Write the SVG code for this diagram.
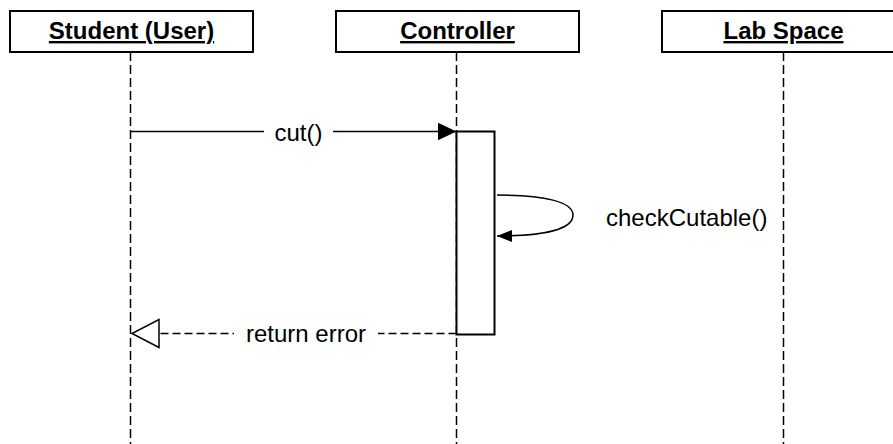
<svg xmlns="http://www.w3.org/2000/svg" width="893" height="444" viewBox="0 0 893 444">
<style>
.box{fill:#fff;stroke:#000;stroke-width:2}
.hdr{font-family:"Liberation Sans",Arial,sans-serif;font-size:24px;font-weight:bold;text-anchor:middle;text-decoration:underline;fill:#000}
.life{stroke:#000;stroke-width:1.5;stroke-dasharray:9,4;fill:none}
.msg{stroke:#000;stroke-width:1.5;fill:none}
.ret{stroke:#000;stroke-width:1.5;stroke-dasharray:8,4;fill:none}
.lbl{font-family:"Liberation Sans",Arial,sans-serif;font-size:24px;fill:#000}
.bg{fill:#fff}
</style>
<defs>
<marker id="filled" markerUnits="userSpaceOnUse" markerWidth="20" markerHeight="20" viewBox="0 0 20 20" refX="19" refY="10" orient="auto">
<path d="M0,1 L19,10 L0,19 Z" fill="#000"/>
</marker>
<marker id="filledSmall" markerUnits="userSpaceOnUse" markerWidth="16" markerHeight="14" viewBox="0 0 16 14" refX="15" refY="7" orient="auto">
<path d="M0,1 L15,7 L0,13 Z" fill="#000"/>
</marker>
<marker id="open" markerUnits="userSpaceOnUse" markerWidth="30" markerHeight="32" viewBox="0 0 30 32" refX="28" refY="16" orient="auto">
<path d="M1,2 L28,16 L1,30 Z" fill="#fff" stroke="#000" stroke-width="1.5"/>
</marker>
</defs>
<g id="lifelines">
<line class="life" x1="130.5" y1="52" x2="130.5" y2="444"/>
<line class="life" x1="456.5" y1="52" x2="456.5" y2="444"/>
<line class="life" x1="783.5" y1="52" x2="783.5" y2="444"/>
</g>
<g id="student">
<rect class="box" x="10" y="11" width="243" height="41"/>
<text class="hdr" x="131.5" y="39">Student (User)</text>
</g>
<g id="controller">
<rect class="box" x="336" y="11" width="243" height="41"/>
<text class="hdr" x="457.5" y="39">Controller</text>
</g>
<g id="labspace">
<rect class="box" x="662" y="11" width="243" height="41"/>
<text class="hdr" x="783.5" y="39">Lab Space</text>
</g>
<g id="activation">
<rect x="456.5" y="131.5" width="38" height="203" fill="#fff" stroke="#000" stroke-width="2"/>
</g>
<g id="connectors">
<line class="msg" x1="130.5" y1="131.5" x2="456.5" y2="131.5" marker-end="url(#filled)"/>
<rect class="bg" x="264" y="118" width="69" height="28"/>
<text class="lbl" x="298.5" y="141" text-anchor="middle">cut()</text>
<path class="msg" d="M497,195 C545,195 573,202 573,215 C573,229 545,236 497,236" marker-end="url(#filledSmall)"/>
<text class="lbl" x="606" y="226">checkCutable()</text>
<line class="ret" x1="456.5" y1="333.5" x2="132" y2="333.5" marker-end="url(#open)"/>
<rect class="bg" x="234" y="320" width="144" height="28"/>
<text class="lbl" x="306" y="342" text-anchor="middle">return error</text>
</g>
</svg>
